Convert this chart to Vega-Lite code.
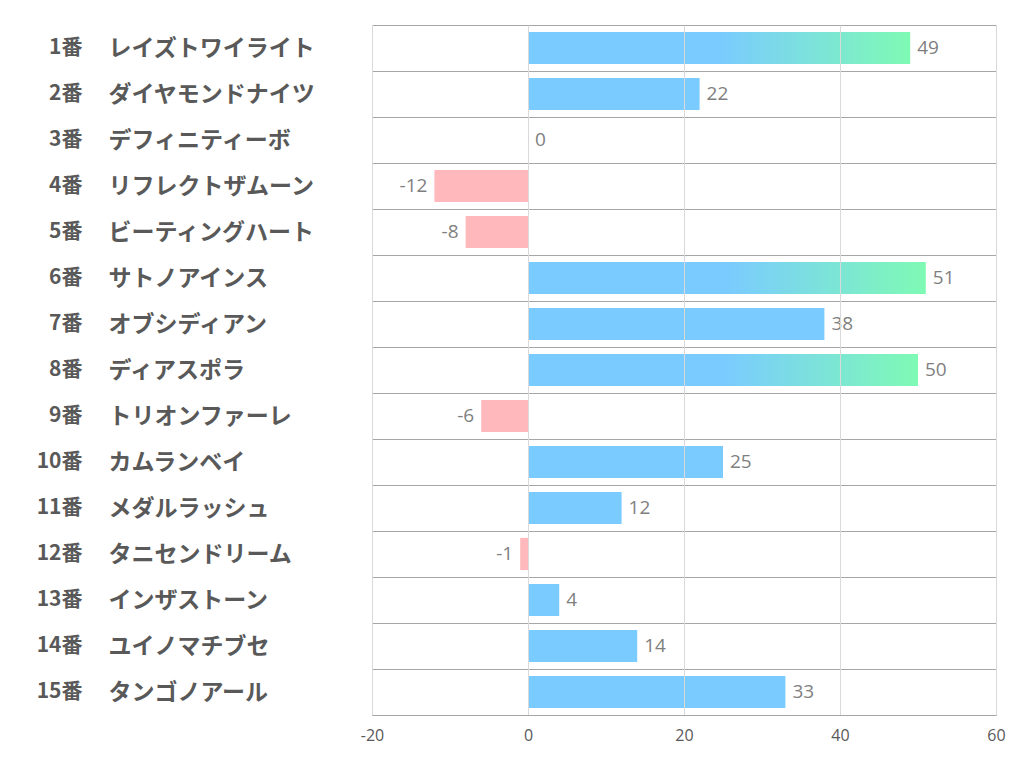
{
  "$schema": "https://vega.github.io/schema/vega-lite/v6.json",
  "width": 624,
  "height": 690,
  "autosize": {"type": "none"},
  "padding": {"left": 372, "top": 25, "right": 26, "bottom": 67},
  "background": "white",
  "config": {"view": {"stroke": null}},
  "data": {
    "values": [
      {"horse": "1番 レイズトワイライト", "value": 49},
      {"horse": "2番 ダイヤモンドナイツ", "value": 22},
      {"horse": "3番 デフィニティーボ", "value": 0},
      {"horse": "4番 リフレクトザムーン", "value": -12},
      {"horse": "5番 ビーティングハート", "value": -8},
      {"horse": "6番 サトノアインス", "value": 51},
      {"horse": "7番 オブシディアン", "value": 38},
      {"horse": "8番 ディアスポラ", "value": 50},
      {"horse": "9番 トリオンファーレ", "value": -6},
      {"horse": "10番 カムランベイ", "value": 25},
      {"horse": "11番 メダルラッシュ", "value": 12},
      {"horse": "12番 タニセンドリーム", "value": -1},
      {"horse": "13番 インザストーン", "value": 4},
      {"horse": "14番 ユイノマチブセ", "value": 14},
      {"horse": "15番 タンゴノアール", "value": 33}
    ]
  },
  "encoding": {
    "x": {
      "field": "value",
      "type": "quantitative",
      "scale": {"domain": [-20, 60], "nice": false, "zero": false}
    }
  },
  "layer": [
    {
      "mark": {"type": "bar", "color": "#7ACBFF", "height": {"band": 0.7}},
      "transform": [{"filter": "datum.value >= 0 && datum.value < 45"}],
      "encoding": {
        "y": {
          "field": "horse",
          "type": "nominal",
          "sort": ["1番 レイズトワイライト", "2番 ダイヤモンドナイツ", "3番 デフィニティーボ", "4番 リフレクトザムーン", "5番 ビーティングハート", "6番 サトノアインス", "7番 オブシディアン", "8番 ディアスポラ", "9番 トリオンファーレ", "10番 カムランベイ", "11番 メダルラッシュ", "12番 タニセンドリーム", "13番 インザストーン", "14番 ユイノマチブセ", "15番 タンゴノアール"],
          "scale": {"paddingInner": 0, "paddingOuter": 0},
          "axis": {
            "orient": "left",
            "title": null,
            "labelExpr": "split(datum.label, ' ')[1]",
            "labelAlign": "left",
            "labelPadding": 264,
            "tickSize": 0,
            "ticks": false,
            "domain": false,
            "grid": true,
            "tickBand": "extent",
            "gridColor": "#A6A6A6",
            "gridWidth": 1,
            "labelFont": "Noto Sans CJK JP",
            "labelFontWeight": "bold",
            "labelFontSize": 23,
            "labelColor": "#595959",
            "labelLimit": 0
          }
        },
        "x": {
          "field": "value",
          "type": "quantitative",
          "axis": {
            "title": null,
            "values": [-20, 0, 20, 40, 60],
            "labelExpr": "toString(datum.value)",
            "labelFlush": false,
            "grid": true,
            "gridColor": "#D9D9D9",
            "ticks": false,
            "domain": true,
            "domainColor": "#A6A6A6",
            "labelFont": "Open Sans",
            "labelFontSize": 16,
            "labelColor": "#595959",
            "labelPadding": 12,
            "zindex": 1
          }
        }
      }
    },
    {
      "mark": {"type": "bar", "color": "#FFB9BD", "height": {"band": 0.7}},
      "transform": [{"filter": "datum.value < 0"}],
      "encoding": {
        "y": {"field": "horse", "type": "nominal", "sort": ["1番 レイズトワイライト", "2番 ダイヤモンドナイツ", "3番 デフィニティーボ", "4番 リフレクトザムーン", "5番 ビーティングハート", "6番 サトノアインス", "7番 オブシディアン", "8番 ディアスポラ", "9番 トリオンファーレ", "10番 カムランベイ", "11番 メダルラッシュ", "12番 タニセンドリーム", "13番 インザストーン", "14番 ユイノマチブセ", "15番 タンゴノアール"], "axis": null},
        "x": {"field": "value", "type": "quantitative", "axis": null}
      }
    },
    {
      "mark": {
        "type": "bar",
        "height": {"band": 0.7},
        "color": {
          "gradient": "linear",
          "x1": 0, "y1": 0, "x2": 1, "y2": 0,
          "stops": [
            {"offset": 0, "color": "#7ACBFF"},
            {"offset": 0.5, "color": "#7ACBFF"},
            {"offset": 1, "color": "#7EFAB4"}
          ]
        }
      },
      "transform": [{"filter": "datum.value >= 45"}],
      "encoding": {
        "y": {"field": "horse", "type": "nominal", "sort": ["1番 レイズトワイライト", "2番 ダイヤモンドナイツ", "3番 デフィニティーボ", "4番 リフレクトザムーン", "5番 ビーティングハート", "6番 サトノアインス", "7番 オブシディアン", "8番 ディアスポラ", "9番 トリオンファーレ", "10番 カムランベイ", "11番 メダルラッシュ", "12番 タニセンドリーム", "13番 インザストーン", "14番 ユイノマチブセ", "15番 タンゴノアール"], "axis": null},
        "x": {"field": "value", "type": "quantitative", "axis": null}
      }
    },
    {
      "mark": {"type": "text", "align": "left", "dx": 7, "font": "Open Sans", "fontSize": 19, "color": "#7F7F7F"},
      "transform": [{"filter": "datum.value >= 0"}],
      "encoding": {
        "y": {
          "field": "horse",
          "type": "nominal",
          "sort": ["1番 レイズトワイライト", "2番 ダイヤモンドナイツ", "3番 デフィニティーボ", "4番 リフレクトザムーン", "5番 ビーティングハート", "6番 サトノアインス", "7番 オブシディアン", "8番 ディアスポラ", "9番 トリオンファーレ", "10番 カムランベイ", "11番 メダルラッシュ", "12番 タニセンドリーム", "13番 インザストーン", "14番 ユイノマチブセ", "15番 タンゴノアール"],
          "axis": {
            "orient": "left",
            "title": null,
            "labelExpr": "split(datum.label, ' ')[0]",
            "labelAlign": "right",
            "labelPadding": 290,
            "tickSize": 0,
            "ticks": false,
            "domain": false,
            "grid": false,
            "labelFont": "Noto Sans CJK JP",
            "labelFontWeight": "bold",
            "labelFontSize": 21,
            "labelColor": "#595959",
            "labelLimit": 0
          }
        },
        "x": {"field": "value", "type": "quantitative", "axis": null},
        "text": {"field": "value", "type": "nominal"}
      }
    },
    {
      "mark": {"type": "text", "align": "right", "dx": -7, "font": "Open Sans", "fontSize": 19, "color": "#7F7F7F"},
      "transform": [{"filter": "datum.value < 0"}],
      "encoding": {
        "y": {"field": "horse", "type": "nominal", "sort": ["1番 レイズトワイライト", "2番 ダイヤモンドナイツ", "3番 デフィニティーボ", "4番 リフレクトザムーン", "5番 ビーティングハート", "6番 サトノアインス", "7番 オブシディアン", "8番 ディアスポラ", "9番 トリオンファーレ", "10番 カムランベイ", "11番 メダルラッシュ", "12番 タニセンドリーム", "13番 インザストーン", "14番 ユイノマチブセ", "15番 タンゴノアール"], "axis": null},
        "x": {"field": "value", "type": "quantitative", "axis": null},
        "text": {"field": "value", "type": "nominal"}
      }
    }
  ],
  "resolve": {"axis": {"y": "independent", "x": "independent"}}
}
